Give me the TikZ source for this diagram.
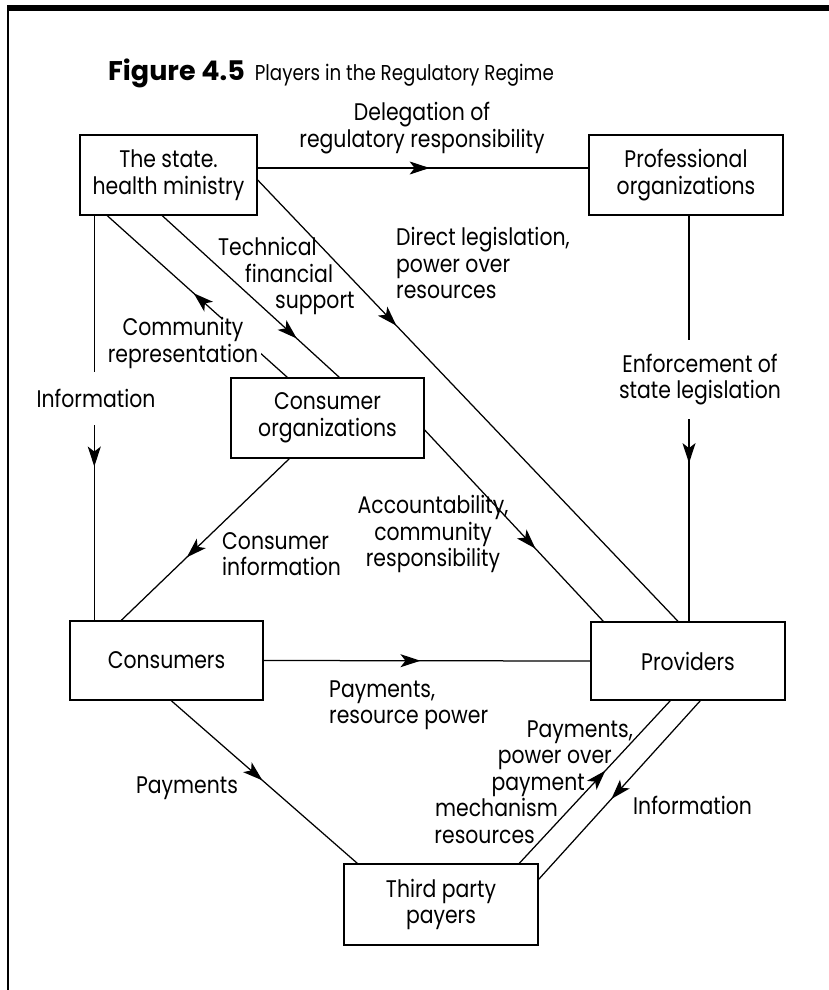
\documentclass[tikz,border=0pt]{standalone}
\usepackage{fontspec}
\setmainfont{Poppins}[FakeStretch=0.85]
\newfontfamily\capfont{Poppins}
\usetikzlibrary{arrows.meta,decorations.markings,calc}
\begin{document}
\begin{tikzpicture}[x=1pt,y=-1pt,
  every node/.style={font=\fontsize{24}{26.5}\selectfont, inner sep=0pt},
  player/.style={draw, line width=1.4pt, align=center},
  link/.style={line width=1.25pt},
  tip/.style={postaction={decorate}, decoration={markings,
      mark=at position #1 with {\arrow{Stealth[length=20pt,width=13pt,inset=5pt]}}}},
  lbl/.style={align=center},
  lblleft/.style={anchor=west, align=left},
  lblright/.style={anchor=east, align=right},
  gap/.style={fill=white, align=center, inner xsep=3pt},
]
\useasboundingbox (0,0) rectangle (829,990);

% page rules
\draw[line width=5.5pt] (7,8) -- (829,8);
\draw[line width=2pt] (8,8) -- (8,990);

% caption
\node[anchor=base west] (title) at (108,81)
  {{\capfont\bfseries\fontsize{27}{29}\selectfont Figure 4.5}\hspace{10pt}%
   {\fontsize{21.5}{24}\selectfont Players in the Regulatory Regime}};

% players
\node[player, minimum width=177pt, minimum height=80pt] (state) at (168.5,175) {The state.\\health ministry};
\node[player, minimum width=194pt, minimum height=80pt] (prof) at (686,175) {Professional\\organizations};
\node[player, minimum width=193pt, minimum height=80pt] (corg) at (327.5,418) {Consumer\\organizations};
\node[player, minimum width=193pt, minimum height=79pt] (cons) at (166.5,660.5) {Consumers};
\node[player, minimum width=194pt, minimum height=78pt] (prov) at (688,661) {Providers};
\node[player, minimum width=194pt, minimum height=81pt] (tpp) at (441,904.5) {Third party\\payers};

% flows
\draw[link, tip=0.52] ($(state.east)+(0,-7)$) -- ($(prof.west)+(0,-7)$);
\draw[link, tip=0.33] ($(state.east)+(0,5)$) -- ($(prov.north)+(-10,0)$);
\draw[link, tip=0.76] ($(state.south west)+(83,0)$) -- ($(corg.north west)+(109,0)$);
\draw[link, tip=0.52] ($(corg.north west)+(57,0)$) -- ($(state.south west)+(28,0)$);
\draw[link, tip=0.62] ($(state.south west)+(15,0)$) -- ($(cons.north west)+(25,0)$);
\draw[link, tip=0.61] ($(corg.south west)+(59,0)$) -- ($(cons.north west)+(52,0)$);
\draw[link, tip=0.62] ($(corg.east)+(0,12)$) -- ($(prov.north west)+(13,0)$);
\draw[link, tip=0.61] ($(prof.south)+(3,0)$) -- ($(prov.north)+(1,0)$);
\draw[link, tip=0.48] (cons.east) -- (prov.west);
\draw[link, tip=0.49] ($(cons.south west)+(102,0)$) -- ($(tpp.north west)+(14,0)$);
\draw[link, tip=0.57] ($(tpp.north west)+(176,0)$) -- ($(prov.south west)+(80,0)$);
\draw[link, tip=0.55] ($(prov.south west)+(110,0)$) -- ($(tpp.north east)+(0,16)$);

% flow labels
\node[lbl] (deleg) at (422,128) {Delegation of\\regulatory responsibility};
\node[lblleft] (direct) at (396,263) {Direct legislation,\\power over\\resources};
\node[lblleft] (tech) at (218,276) {Technical\\\hspace*{27pt}financial\\\hspace*{57pt}support};
\node[gap] (comm) at (183,343) {Community\\representation};
\node[gap, minimum height=53pt] (info1) at (96,398) {Information};
\node[lblleft] (cinfo) at (222,554) {Consumer\\information};
\node[lbl] (acct) at (433,534) {Accountability,\\community\\responsibility};
\node[gap, minimum height=79pt] (enf) at (700,379.5) {Enforcement of\\state legislation};
\node[lblleft] (pay1) at (329,705) {Payments,\\resource power};
\node (pay2) at (187,788) {Payments};
\node[lblright] (pay3) at (633,782) {Payments,\\power over\rule{21pt}{0pt}\\payment\rule{48pt}{0pt}\\mechanism\rule{75pt}{0pt}\\resources\rule{98pt}{0pt}};
\node[lblleft] (info2) at (633,805) {Information};
\end{tikzpicture}
\end{document}
